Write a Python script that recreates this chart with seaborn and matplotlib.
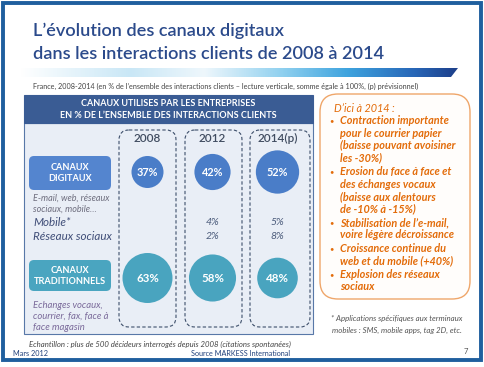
import numpy as np
import pandas as pd
import matplotlib
matplotlib.use("Agg")
import matplotlib.pyplot as plt
import seaborn as sns
from matplotlib.patches import FancyBboxPatch, Rectangle, Polygon
from matplotlib.colors import LinearSegmentedColormap

# ---------------- data ----------------
years = ["2008", "2012", "2014(p)"]
digital = [37, 42, 52]
traditional = [63, 58, 48]
mobile = [None, 4, 5]
social = [None, 2, 8]
row_keys = ["digital", "trad"]

title_lines = ["L\u2019évolution des canaux digitaux",
               "dans les interactions clients de 2008 à 2014"]
subtitle = ("France, 2008-2014 (en % de l\u2019ensemble des interactions clients \u2013 "
            "lecture verticale, somme égale à 100%, (p) prévisionnel)")
header = ["CANAUX UTILISES PAR LES ENTREPRISES",
          "EN % DE L\u2019ENSEMBLE DES INTERACTIONS CLIENTS"]
bullets = [
    ["Contraction importante", "pour le courrier papier", "(baisse pouvant avoisiner", "les -30%)"],
    ["Erosion du face à face et", "des échanges vocaux", "(baisse aux alentours", "de -10% à -15%)"],
    ["Stabilisation de l\u2019e-mail,", "voire légère décroissance"],
    ["Croissance continue du", "web et du mobile (+40%)"],
    ["Explosion des réseaux", "sociaux"],
]

df = pd.DataFrame({
    "year": years * 2,
    "row": [row_keys[0]] * 3 + [row_keys[1]] * 3,
    "value": digital + traditional,
})

# ---------------- style ----------------
sns.set_theme(style="white")
plt.rcParams["font.family"] = ["Lato", "DejaVu Sans"]

W, H = 484, 367
fig = plt.figure(figsize=(W / 100, H / 100), dpi=100)
fig.patch.set_facecolor("white")
renderer = fig.canvas.get_renderer()
bg = fig.add_axes([0, 0, 1, 1])
bg.set_xlim(0, W)
bg.set_ylim(H, 0)
bg.axis("off")


def fit(ref, width, others=()):
    """Scale font size so that `ref` spans `width` pixels; apply same factor to others."""
    bb = ref.get_window_extent(renderer=renderer)
    k = width / bb.width
    for t in [ref] + [o for o in others if o is not ref]:
        t.set_fontsize(t.get_fontsize() * k)


BLUE_D = "#4A7DC8"
TEAL = "#49A4BF"
ORANGE = "#E36C0A"
NAVY_TXT = "#1F3F7A"

# outer frame
bg.add_patch(Rectangle((3, 3), 478, 357, fill=False, ec="#1F5F9E", lw=2.8))

# title
t1 = bg.text(33, 31, title_lines[0], fontsize=13.2, weight="semibold", color="#2B4A8B",
             va="center", ha="left")
t2 = bg.text(33, 54, title_lines[1], fontsize=13.2, weight="semibold", color="#2B4A8B",
             va="center", ha="left")
fit(t2, 354, [t1])

# gradient bar
cmap = LinearSegmentedColormap.from_list("bar", [
    (0.0, "#FFFFFF"), (0.25, "#C9E7F6"), (0.42, "#EEF7FC"),
    (0.6, "#8FD0EF"), (0.75, "#3EA3DE"), (0.9, "#2867B8"), (1.0, "#1D3F8A")])
grad = np.linspace(0, 1, 256)[None, :]
im = bg.imshow(grad, cmap=cmap, extent=[20, 458, 77, 68], aspect="auto", zorder=1)
poly = Polygon([(20, 68), (458, 68), (451, 77), (20, 77)], closed=True,
               transform=bg.transData, fc="none", ec="none")
bg.add_patch(poly)
im.set_clip_path(poly)
bg.set_xlim(0, W)
bg.set_ylim(H, 0)

# subtitle
ts = bg.text(33, 86, subtitle, fontsize=5.05, color="#444444", va="center", ha="left")
fit(ts, 387)

# table
bg.add_patch(Rectangle((24, 123), 289, 211, fc="#E9EEF6", ec="#5878A8", lw=0.8))
bg.add_patch(Rectangle((24, 95), 289, 28, fc="#3A5C94", ec="#3A5C94", lw=0.8))
h1 = bg.text(168, 103, header[0], fontsize=6.4, color="white", weight="bold", ha="center", va="center")
h2 = bg.text(168, 116, header[1], fontsize=6.4, color="white", weight="bold", ha="center", va="center")
fit(h2, 218, [h1])

# dashed column boxes
for x0, x1 in [(119, 176), (185, 242), (250, 310)]:
    bg.add_patch(FancyBboxPatch((x0, 130), x1 - x0, 197,
                                boxstyle="round,pad=0,rounding_size=10",
                                fill=False, ec="#3D4F6A", lw=0.8, ls=(0, (3, 2))))

# row label boxes
bg.add_patch(FancyBboxPatch((29, 156), 82, 34, boxstyle="round,pad=0,rounding_size=5",
                            fc="#5485CF", ec="none"))
r1 = bg.text(70, 173, "CANAUX\nDIGITAUX", fontsize=7, color="white", weight="bold",
             ha="center", va="center", linespacing=1.3)
bg.add_patch(FancyBboxPatch((29, 260), 82, 31, boxstyle="round,pad=0,rounding_size=5",
                            fc="#4AA5C0", ec="none"))
r2 = bg.text(70, 276, "CANAUX\nTRADITIONNELS", fontsize=7, color="white", weight="bold",
             ha="center", va="center", linespacing=1.3)
fit(r2, 72, [r1])

e1 = bg.text(33, 198, "E-mail, web, réseaux", fontsize=5.4, style="italic",
             color="#6E6E7E", va="center")
e2 = bg.text(33, 209, "sociaux, mobile\u2026", fontsize=5.4, style="italic",
             color="#6E6E7E", va="center")
fit(e1, 77, [e2])
m1 = bg.text(33, 223, "Mobile*", fontsize=8.5, style="italic", color="#404E78", va="center")
m2 = bg.text(33, 237, "Réseaux sociaux", fontsize=8.5, style="italic", color="#404E78", va="center")
fit(m2, 79, [m1])
ech = [bg.text(33, 305 + 11 * i, s, fontsize=5.5, style="italic", color="#7A6A9A", va="center")
       for i, s in enumerate(["Echanges vocaux,", "courrier, fax, face à", "face magasin"])]
fit(ech[0], 70, ech[1:])

# orange commentary box
bg.add_patch(FancyBboxPatch((320, 94), 150, 205, boxstyle="round,pad=0,rounding_size=18",
                            fc="#FFFDFB", ec="#EFA66A", lw=1.0))
otexts = [bg.text(334, 108, "D\u2019ici à 2014 :", fontsize=6.9, style="italic",
                  color=ORANGE, va="center")]
ref_line = None
y = 121
for b in bullets:
    bg.text(329, y, "\u2022", fontsize=5.5, color=ORANGE, va="center")
    for line in b:
        t = bg.text(340, y, line, fontsize=6.9, style="italic", weight="bold",
                    color=ORANGE, va="center")
        if line.startswith("(baisse pouvant"):
            ref_line = t
        otexts.append(t)
        y += 12.3
    y += 1.5
fit(ref_line, 117, otexts)

f1 = bg.text(462, 318, "* Applications spécifiques aux terminaux", fontsize=5.5, style="italic",
             color="#555555", ha="right", va="center")
f2 = bg.text(462, 330, "mobiles : SMS, mobile apps, tag 2D, etc.", fontsize=5.5, style="italic",
             color="#555555", ha="right", va="center")
fit(f2, 130, [f1])
bg.text(466, 352, "7", fontsize=5.5, color="#555555", ha="center", va="center")

te = bg.text(29, 344, "Echantillon : plus de 500 décideurs interrogés depuis 2008 (citations spontanées)",
             fontsize=5.7, style="italic", color="#444444", ha="left", va="center")
fit(te, 258)
tm = bg.text(13, 353, "Mars 2012", fontsize=5.4, color=NAVY_TXT, ha="left", va="center")
tsrc = bg.text(290, 353, "Source MARKESS International", fontsize=5.4, color=NAVY_TXT,
               ha="right", va="center")
fit(tsrc, 100, [tm])

# ---------------- circles (seaborn) ----------------
ax = fig.add_axes([115 / W, 1 - 331 / H, 195 / W, 212 / H])
ax.patch.set_alpha(0)
sns.scatterplot(data=df, x="year", y="row", size="value", sizes=(531, 1296),
                size_norm=(37, 63), hue="row",
                palette={row_keys[0]: BLUE_D, row_keys[1]: TEAL},
                legend=False, linewidth=0, ax=ax, zorder=3)
ax.set_xlim(-0.5, 2.5)
ax.set_ylim(1.5, -0.5)
ax.axis("off")

for i, yr in enumerate(years):
    ax.text(i, -0.32, yr, fontsize=8.5, weight="semibold", color="#404C60", ha="center", va="center")
for i, v in enumerate(digital):
    ax.text(i, 0, f"{v}%", fontsize=7.8, color="white", weight="bold", ha="center", va="center", zorder=4)
for i, v in enumerate(traditional):
    ax.text(i, 1, f"{v}%", fontsize=8.3, color="white", weight="bold", ha="center", va="center", zorder=4)
for i, (m, s) in enumerate(zip(mobile, social)):
    if m is not None:
        ax.text(i, 0.48, f"{m}%", fontsize=7.5, style="italic", color="#4A5A7A", ha="center", va="center")
        ax.text(i, 0.61, f"{s}%", fontsize=7.5, style="italic", color="#4A5A7A", ha="center", va="center")

fig.savefig("out.png", dpi=100, facecolor="white")
